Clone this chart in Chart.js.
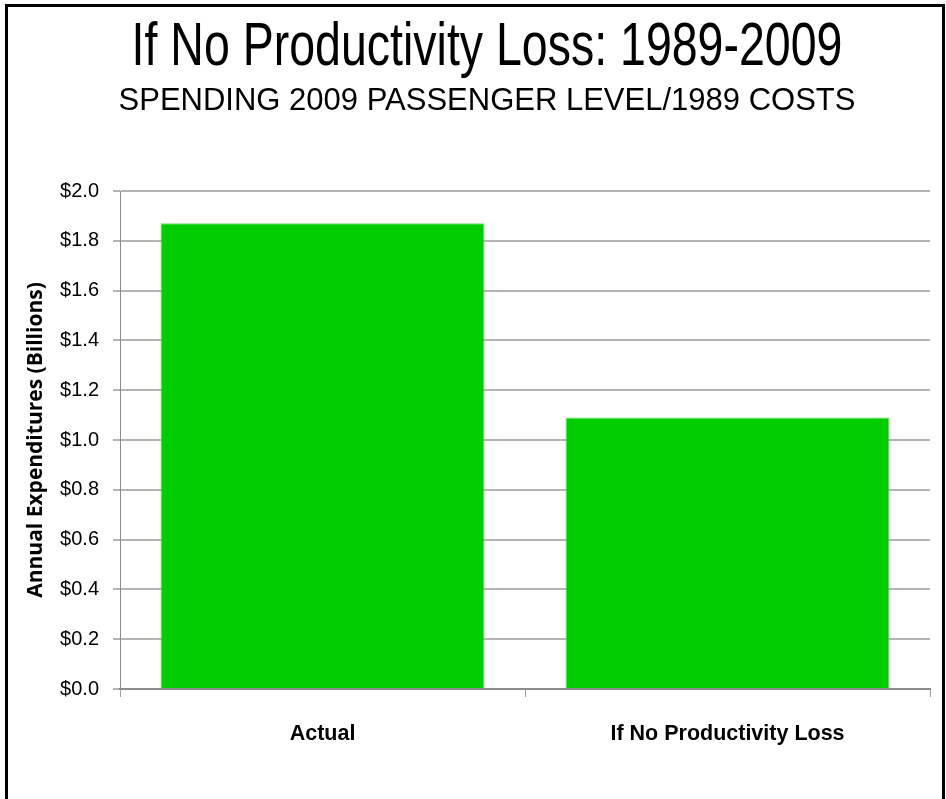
<!DOCTYPE html>
<html>
<head>
<meta charset="utf-8">
<script src="https://cdn.jsdelivr.net/npm/chart.js@4.4.0/dist/chart.umd.min.js"></script>
<style>
  html, body { margin: 0; padding: 0; background: #fff; overflow: hidden; }
  #wrap { position: relative; width: 946px; height: 799px; }
  #spendChart { position: absolute; left: 0; top: 0; }
  .head {
    position: absolute; left: 0; width: 974px; text-align: center;
    font-family: "Liberation Sans", Arial, sans-serif; color: #000;
    line-height: 1; white-space: nowrap;
  }
  /* narrow headline face: squeeze the regular sans horizontally */
  #title { top: 13px; font-size: 62px; transform: scaleX(0.75); transform-origin: 487px 0; }
  #subtitle { top: 84px; font-size: 31px; }
  #frame {
    position: absolute; left: 5px; top: 4px; width: 940px; height: 900px;
    box-sizing: border-box; border: 3px solid #000; pointer-events: none;
  }
</style>
</head>
<body>
<div id="wrap">
  <canvas id="spendChart" width="946" height="799"></canvas>
  <div class="head" id="title">If No Productivity Loss: 1989-2009</div>
  <div class="head" id="subtitle">SPENDING 2009 PASSENGER LEVEL/1989 COSTS</div>
  <div id="frame"></div>
</div>
<script>
const categories = ["Actual", "If No Productivity Loss"];
const spending = [1.87, 1.09];
const yTicks = [0, 0.2, 0.4, 0.6, 0.8, 1.0, 1.2, 1.4, 1.6, 1.8, 2.0];

const sans = '"Liberation Sans", Arial, sans-serif';

const ctx = document.getElementById("spendChart").getContext("2d");

new Chart(ctx, {
  type: "bar",
  data: {
    labels: categories,
    datasets: [
      {
        label: "Annual Expenditures",
        data: spending,
        backgroundColor: "#00cc00",
        borderColor: "#6fdc6f",
        borderWidth: 1,
        barPercentage: 0.8,
        categoryPercentage: 1.0,
      },
    ],
  },
  options: {
    responsive: false,
    animation: false,
    // room on top for the heading, chart area runs 120..930 across
    layout: { padding: { left: 8, right: 16, top: 191, bottom: 0 } },
    plugins: {
      legend: { display: false },
      tooltip: { enabled: false },
    },
    scales: {
      x: {
        afterFit: scale => { scale.height = 110; },
        ticks: {
          color: "#000",
          padding: 24,
          font: { family: sans, size: 21.5, weight: "bold" },
        },
        grid: {
          drawOnChartArea: false,
          drawTicks: true,
          tickLength: 8,
          color: "#a0a0a0",
          lineWidth: 1,
        },
        border: { color: "#8c8c8c", width: 2 },
      },
      y: {
        min: 0,
        max: 2,
        afterFit: scale => { scale.width = 112; },
        afterBuildTicks: scale => {
          scale.ticks = yTicks.map(v => ({ value: v }));
        },
        ticks: {
          color: "#000",
          padding: 14,
          font: { family: sans, size: 20 },
          callback: value => "$" + Number(value).toFixed(1),
        },
        grid: {
          color: "#b4b4b4",
          lineWidth: 2,
          tickLength: 7,
        },
        border: { color: "#8c8c8c", width: 1 },
        title: {
          display: true,
          text: "Annual Expenditures (Billions)",
          color: "#000",
          font: { family: '"Open Sans", sans-serif', size: 21, weight: "bold" },
          padding: { top: 15, bottom: 0 },
        },
      },
    },
  },
});
</script>
</body>
</html>
